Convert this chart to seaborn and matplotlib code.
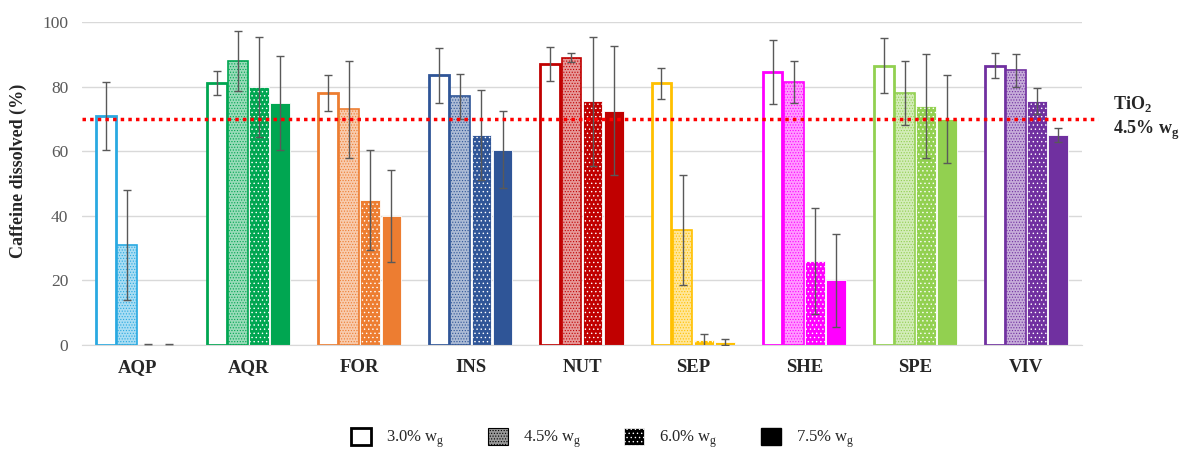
import numpy as np
import pandas as pd
import matplotlib
matplotlib.use("Agg")
import matplotlib.pyplot as plt
import matplotlib.colors as mcolors
import seaborn as sns
from matplotlib.patches import Patch

# products on the x axis
products = ["AQP", "AQR", "FOR", "INS", "NUT", "SEP", "SHE", "SPE", "VIV"]
bar_colors = ["#29A9E1", "#00A651", "#ED7D31", "#2F5597", "#C00000",
              "#FFC000", "#FF00FF", "#92D050", "#7030A0"]

# pigment loading levels (hue)
levels = ["3.0% w$_\\mathrm{g}$", "4.5% w$_\\mathrm{g}$",
          "6.0% w$_\\mathrm{g}$", "7.5% w$_\\mathrm{g}$"]

# caffeine dissolved (%) per level, in product order
val_30 = [71.0, 81.0, 78.0, 83.5, 87.0, 81.0, 84.5, 86.5, 86.5]
val_45 = [31.0, 88.0, 73.0, 77.0, 89.0, 35.5, 81.5, 78.0, 85.0]
val_60 = [0.0, 80.0, 45.0, 65.0, 75.5, 1.5, 26.0, 74.0, 75.5]
val_75 = [0.0, 75.0, 40.0, 60.5, 72.5, 1.0, 20.0, 70.0, 65.0]

# standard deviations
err_30 = [10.5, 3.7, 5.5, 8.5, 5.3, 4.8, 10.0, 8.5, 3.8]
err_45 = [17.0, 9.3, 15.0, 7.0, 1.3, 17.0, 6.5, 10.0, 5.2]
err_60 = [0.2, 15.5, 15.5, 14.0, 20.0, 2.0, 16.5, 16.0, 4.0]
err_75 = [0.2, 14.5, 14.3, 12.0, 20.0, 1.0, 14.5, 13.5, 2.3]

tio2_ref = 70.0

values = [val_30, val_45, val_60, val_75]
errors = [err_30, err_45, err_60, err_75]

df = pd.DataFrame({
    "product": products * 4,
    "level": np.repeat(levels, len(products)),
    "value": sum(values, []),
})


def tint(c, amount=0.4):
    # mix colour with white, for the stippled 4.5 % bars
    rgb = np.array(mcolors.to_rgb(c))
    return tuple(rgb * amount + (1 - amount))


sns.set_style("white")
plt.rcParams["font.family"] = ["Liberation Serif", "DejaVu Serif"]
plt.rcParams["mathtext.fontset"] = "custom"
plt.rcParams["mathtext.rm"] = "Liberation Serif"
plt.rcParams["mathtext.bf"] = "Liberation Serif:bold"
plt.rcParams["hatch.linewidth"] = 0.5

fig = plt.figure(figsize=(11.82, 4.53), dpi=100)
ax = fig.add_axes([0.0694, 0.2384, 0.846, 0.713])

sns.barplot(data=df, x="product", y="value", hue="level", order=products,
            hue_order=levels, width=0.76, gap=0.06, errorbar=None,
            legend=False, ax=ax)

bar_conts = list(ax.containers)
for i, cont in enumerate(bar_conts):
    for j, bar in enumerate(cont):
        c = bar_colors[j]
        if i == 0:
            bar.set_facecolor("white")
            bar.set_edgecolor(c)
            bar.set_linewidth(2)
        elif i == 1:
            bar.set_facecolor(tint(c))
            bar.set_edgecolor(c)
            bar.set_hatch("......")
            bar.set_linewidth(1.2)
        elif i == 2:
            bar.set_facecolor(c)
            bar.set_edgecolor("white")
            bar.set_hatch("....")
            bar.set_linewidth(0.6)
        else:
            bar.set_facecolor(c)
            bar.set_edgecolor("white")
            bar.set_linewidth(0.6)
        xc = bar.get_x() + bar.get_width() / 2
        ax.errorbar(xc, bar.get_height(), yerr=errors[i][j], fmt="none",
                    ecolor="#595959", elinewidth=1, capsize=3, capthick=1,
                    zorder=5)

ax.axhline(tio2_ref, xmin=0, xmax=1.016, color="#FF0000", lw=2.5,
           ls=(0, (1, 1.2)), clip_on=False, zorder=6)

ax.set_ylim(0, 100)
ax.set_yticks(range(0, 101, 20))
ax.set_xlim(-0.5, len(products) - 0.5)
ax.yaxis.grid(True, color="#D9D9D9", lw=1)
ax.set_axisbelow(True)
for s in ["top", "right", "left"]:
    ax.spines[s].set_visible(False)
ax.spines["bottom"].set_color("#D9D9D9")
ax.tick_params(axis="y", length=0, labelsize=12.5, labelcolor="#595959", pad=10)
ax.tick_params(axis="x", length=0, labelsize=13.5, pad=10)
for t in ax.get_xticklabels():
    t.set_fontweight("bold")
ax.set_xlabel("")
ax.set_ylabel("Caffeine dissolved (%)", fontsize=13, fontweight="bold")
ax.yaxis.set_label_coords(-0.055, 0.54)

fig.text(0.9416, 0.74, "TiO$_\\mathbf{2}$\n4.5% w$_\\mathbf{g}$",
         fontsize=13, fontweight="bold", ha="left", va="center",
         linespacing=1.3)

handles = [
    Patch(facecolor="white", edgecolor="black", lw=2),
    Patch(facecolor=tint("black"), edgecolor="black", hatch="......", lw=0.8),
    Patch(facecolor="black", edgecolor="white", hatch="....", lw=0.5),
    Patch(facecolor="black", edgecolor="black"),
]
fig.legend(handles, levels, loc="center", bbox_to_anchor=(0.51, 0.03),
           ncol=4, frameon=False, fontsize=12, columnspacing=2.6,
           handlelength=1.2, handleheight=1.2, handletextpad=0.9)

fig.savefig("out.png", dpi=100)
